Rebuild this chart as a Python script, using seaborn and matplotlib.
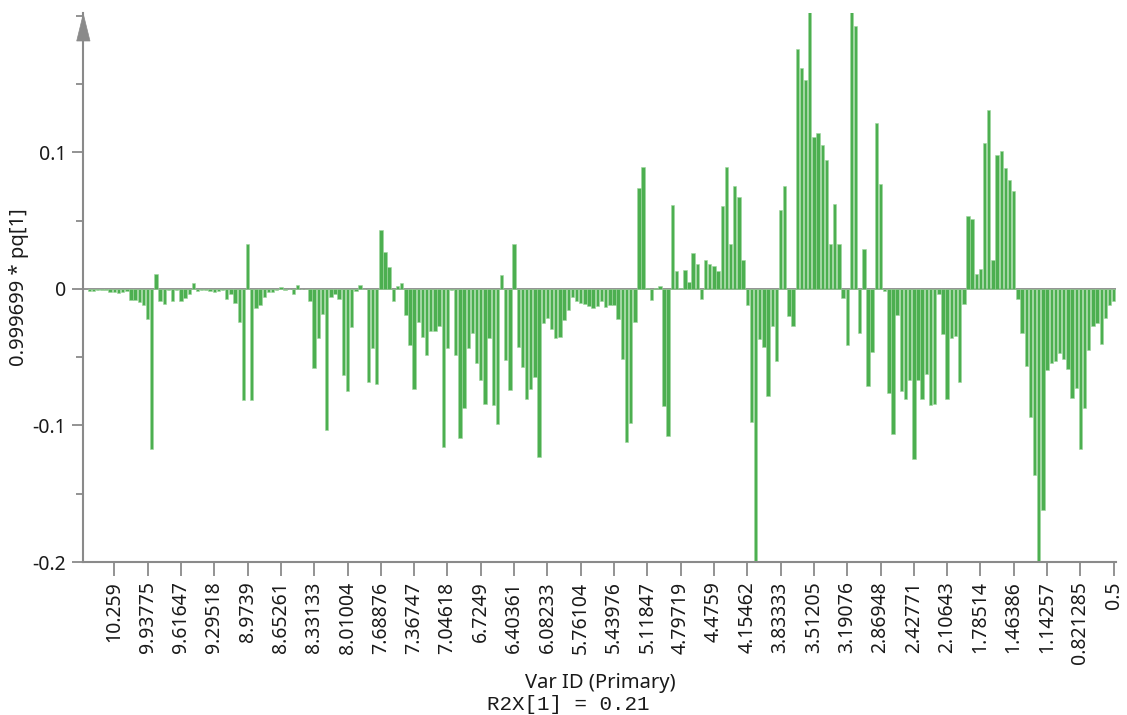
import numpy as np
import pandas as pd
import matplotlib
matplotlib.use("Agg")
import matplotlib.pyplot as plt
from matplotlib.patches import Polygon
from matplotlib.ticker import MultipleLocator
import seaborn as sns

# ---- data (0.999699 * pq[1] loadings, ordered from high to low ppm) ----
seg_a = [-0.0015, -0.0015, -0.0005, -0.0005, -0.0005, -0.002, -0.002, -0.003, -0.002, -0.0015,
         -0.008, -0.008, -0.0095, -0.0115, -0.022, -0.117, 0.011, -0.009, -0.011, -0.001,
         -0.009, -0.001, -0.009, -0.007, -0.0035, 0.0045, -0.0015, -0.001, -0.001, -0.0015]
seg_b = [-0.002, -0.0015, -0.0005, -0.0075, -0.004, -0.0105, -0.0245, -0.0815, 0.033, -0.0815,
         -0.014, -0.0115, -0.006, -0.002, -0.002, -0.001, 0.0015, -0.0005, 0.0, -0.004,
         0.003, 0.0, 0.0, -0.009, -0.058, -0.036, -0.0185, -0.103, -0.006, -0.0035]
seg_c = [-0.0075, -0.063, -0.075, -0.028, -0.0015, 0.0025, 0.0, -0.068, -0.043, -0.07,
         0.043, 0.027, 0.016, -0.009, 0.002, 0.004, -0.0195, -0.041, -0.073, -0.024,
         -0.035, -0.0485, -0.031, -0.031, -0.0275, -0.1155, -0.043, -0.001, -0.0485, -0.1095]
seg_d = [-0.0875, -0.043, -0.032, -0.054, -0.0665, -0.084, -0.036, -0.085, -0.099, 0.0105,
         -0.052, -0.074, 0.033, -0.0425, -0.057, -0.081, -0.0735, -0.0645, -0.123, -0.025,
         -0.021, -0.0295, -0.036, -0.0355, -0.023, -0.0155, -0.006, -0.009, -0.0105, -0.011]
seg_e = [-0.0127, -0.014, -0.0127, -0.009, -0.013, -0.012, -0.0115, -0.022, -0.051, -0.112,
         -0.098, -0.0245, 0.074, 0.089, 0.001, -0.008, 0.0005, 0.002, -0.0855, -0.108,
         0.0615, 0.013, 0.001, 0.014, 0.005, 0.026, 0.018, -0.0075, 0.021, 0.0185]
seg_f = [0.017, 0.013, 0.0605, 0.089, 0.033, 0.075, 0.067, 0.0215, -0.0115, -0.0975,
         -0.215, -0.0365, -0.0425, -0.0785, -0.0275, -0.0525, 0.058, 0.075, -0.020, -0.027,
         0.1755, 0.1615, 0.153, 0.215, 0.111, 0.114, 0.105, 0.094, 0.033, 0.062]
seg_g = [0.033, -0.007, -0.041, 0.215, 0.1925, -0.032, 0.029, -0.071, -0.0465, 0.1215,
         0.077, -0.0015, -0.076, -0.1065, -0.0195, -0.075, -0.081, -0.067, -0.1245, -0.067,
         -0.081, -0.062, -0.085, -0.084, -0.004, -0.033, -0.081, -0.036, -0.0345, -0.0685]
seg_h = [-0.011, 0.0535, 0.051, 0.011, 0.0145, 0.1065, 0.131, 0.021, 0.098, 0.101,
         0.0885, 0.0795, 0.0715, -0.0075, -0.032, -0.0565, -0.094, -0.1365, -0.215, -0.1617,
         -0.0597, -0.0545, -0.0525, -0.0467, -0.051, -0.0585, -0.080, -0.0725, -0.1175, -0.0875,
         -0.045, -0.027, -0.025, -0.0405, -0.0215, -0.0115, -0.009]

tick_labels = ["10.259", "9.93775", "9.61647", "9.29518", "8.9739", "8.65261", "8.33133",
               "8.01004", "7.68876", "7.36747", "7.04618", "6.7249", "6.40361", "6.08233",
               "5.76104", "5.43976", "5.11847", "4.79719", "4.4759", "4.15462", "3.83333",
               "3.51205", "3.19076", "2.86948", "2.42771", "2.10643", "1.78514", "1.46386",
               "1.14257", "0.821285", "0.5"]

values = seg_a + seg_b + seg_c + seg_d + seg_e + seg_f + seg_g + seg_h
df = pd.DataFrame({"var": np.arange(len(values)), "load": values})

# ---- style ----
sns.set_theme(style="white")
plt.rcParams["font.family"] = ["Noto Sans", "DejaVu Sans"]
gray = "#8a8a8a"
txt = "#1a1a1a"

fig = plt.figure(figsize=(11.27, 7.15), dpi=100)
ax = fig.add_axes([83 / 1127, 153 / 715, 1032.8 / 1127, 549 / 715])

sns.barplot(data=df, x="var", y="load", color="#4caf50", saturation=1, width=0.82,
            edgecolor="#9fd69f", linewidth=0.4, ax=ax, errorbar=None)

ax.axhline(0, color=gray, lw=1.3, zorder=0.5)

ax.set_xlim(-1.52, len(values) - 0.5)
ax.set_ylim(-0.2, 0.202)

first_tick, tick_step = 6, 8
ax.set_xticks([first_tick + tick_step * k for k in range(len(tick_labels))])
ax.set_xticklabels(tick_labels, rotation=90, fontsize=14, color=txt)

ax.yaxis.set_minor_locator(MultipleLocator(0.05))
ax.set_yticks([-0.2, -0.1, 0, 0.1])
ax.set_yticklabels(["-0.2", "-0.1", "0", "0.1"], fontsize=14, color=txt)

ax.tick_params(axis="x", which="major", length=10, width=1.3, color=gray, pad=4, bottom=True)
ax.tick_params(axis="y", which="major", length=8, width=1.3, color=gray, pad=4, left=True)
ax.tick_params(axis="y", which="minor", length=5, width=1.3, color=gray, left=True)

for s in ["top", "right"]:
    ax.spines[s].set_visible(False)
for s in ["left", "bottom"]:
    ax.spines[s].set_color(gray)
    ax.spines[s].set_linewidth(1.5)

ax.set_xlabel("")
ax.set_ylabel("")
fig.text(600 / 1127, 1 - 683 / 715, "Var ID (Primary)", fontsize=14.5, color=txt,
         ha="center", va="center")
fig.text(19 / 1127, 1 - 287 / 715, "0.999699 * pq[1]", fontsize=14.5, color=txt,
         ha="center", va="center", rotation=90)

# arrow head on the y axis
arrow = Polygon([[0.833, 7.01], [0.767, 6.74], [0.90, 6.74]], closed=True,
                transform=fig.dpi_scale_trans, facecolor=gray, edgecolor=gray, lw=0.5)
fig.patches.append(arrow)

fig.text(568 / 1127, 1 - 704 / 715, "R2X[1] = 0.21", family="Liberation Mono",
         fontsize=15, color=txt, ha="center", va="center")

fig.savefig("out.png", dpi=100, facecolor="white")
